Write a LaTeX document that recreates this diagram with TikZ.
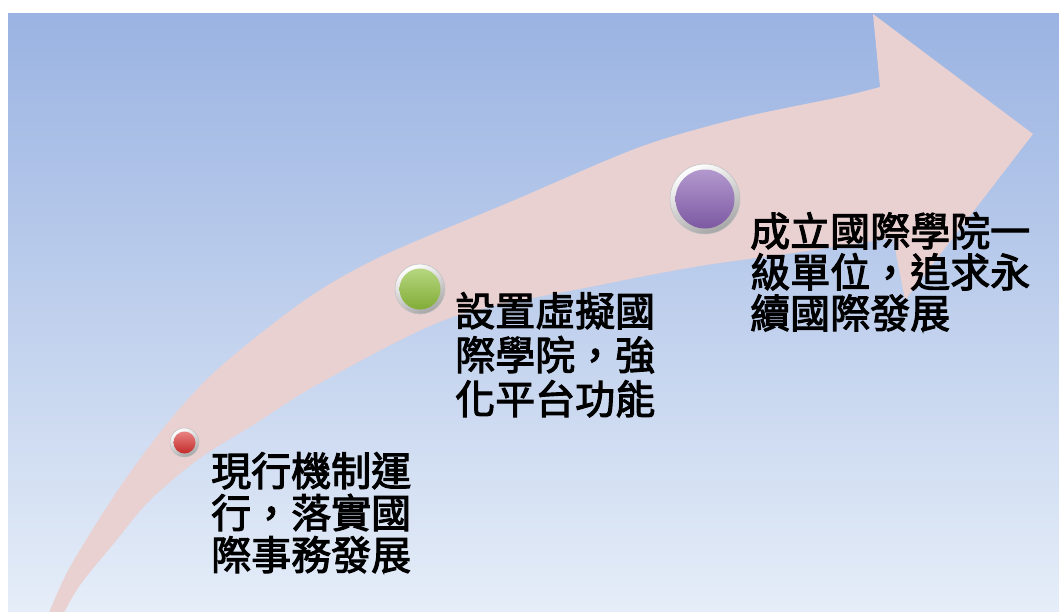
\documentclass[tikz,border=0pt]{standalone}
\usepackage{fontspec}
\newfontfamily\cjk[FakeBold=2.6]{Noto Sans CJK TC}
\definecolor{bgtop}{HTML}{9AB3E2}
\definecolor{bgbot}{HTML}{E5EDF8}
\definecolor{arrowpink}{HTML}{E9D0D1}
\definecolor{redball}{HTML}{D8302E}
\definecolor{greenball}{HTML}{8FC03C}
\definecolor{purpleball}{HTML}{8A62B4}
\tikzset{
  bezel/.style={circle, inner sep=0pt, minimum size=#1, top color=white, bottom color=gray!70, shading angle=25, draw=gray!50, line width=0.5pt},
  knob/.style={circle, inner sep=0pt, minimum size=#1},
  knobred/.style={top color=redball!60!white, bottom color=redball!90!black},
  knobgreen/.style={top color=greenball!65!white, bottom color=greenball!90!black},
  knobpurple/.style={top color=purpleball!65!white, bottom color=purpleball!90!black},
  lbl/.style={anchor=north west, inner sep=0pt, align=left, text=black, font=\cjk\fontsize{40pt}{42pt}\selectfont},
}
\begin{document}
\begin{tikzpicture}[x=1pt,y=-1pt]
\useasboundingbox (0,0) rectangle (1059,611);
\fill[white] (0,0) rectangle (1059,611);
\shade[top color=bgtop, bottom color=bgbot] (8,13) rectangle (1059,611);
\begin{scope}
\clip (8,13) rectangle (1059,611);
\fill[arrowpink]
  plot[smooth, tension=0.5] coordinates {(46,620) (70,567) (120,487) (170,420) (220,367) (305,300) (380,257) (510,202) (640,147) (740,118) (840,97) (880,87)}
  -- (873,14) -- (1033,134) -- (905,300) -- (893,238)
  -- plot[smooth, tension=0.5] coordinates {(893,238) (800,252) (700,266) (600,285) (450,318) (320,383) (253,425) (200,458) (150,500) (115,542) (80,585) (60,620)}
  -- cycle;
\end{scope}
% balls
\node[bezel=29pt] (r1) at (184.5,442.5) {};
\node[knob=22pt, knobred] (k1) at (r1.center) {};
\node[bezel=50pt] (r2) at (420,289) {};
\node[knob=41pt, knobgreen] (k2) at (r2.center) {};
\node[bezel=70pt] (r3) at (705,199) {};
\node[knob=59pt, knobpurple] (k3) at (r3.center) {};
% labels
\node[lbl] (t1) at (211,452) {現行機制運\\行，落實國\\際事務發展};
\node[lbl, font=\cjk\fontsize{40pt}{44pt}\selectfont] (t2) at (455,292) {設置虛擬國\\際學院，強\\化平台功能};
\node[lbl, font=\cjk\fontsize{40pt}{41pt}\selectfont] (t3) at (750,212) {成立國際學院一\\級單位，追求永\\續國際發展};
\end{tikzpicture}
\end{document}
